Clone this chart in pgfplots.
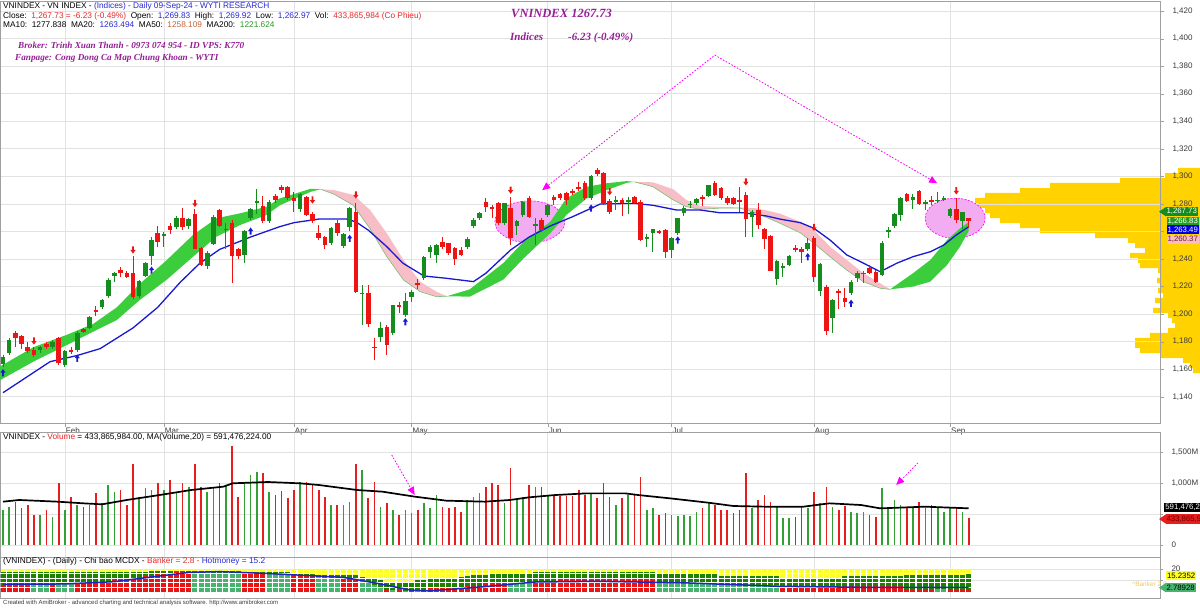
\documentclass[border=0pt]{standalone}
\usepackage{pgfplots}
\pgfplotsset{compat=1.18}
\usepackage{pgfplotstable}
\usepackage{fontspec}
\setmainfont{Liberation Sans}
\newfontfamily\seriff{Liberation Serif}
\usetikzlibrary{arrows.meta}

\definecolor{cgreen}{RGB}{20,140,30}
\definecolor{cred}{RGB}{238,20,20}
\definecolor{vgreen}{RGB}{50,160,50}
\definecolor{vred}{RGB}{230,30,30}
\definecolor{bandg}{RGB}{60,205,60}
\definecolor{bandp}{RGB}{247,190,200}
\definecolor{mablue}{RGB}{25,25,210}
\definecolor{prof}{RGB}{255,210,0}
\definecolor{gridc}{RGB}{226,226,226}
\definecolor{framec}{RGB}{160,160,160}
\definecolor{hblue}{RGB}{40,40,210}
\definecolor{hred}{RGB}{230,40,40}
\definecolor{mabrown}{RGB}{190,100,60}
\definecolor{magreen}{RGB}{40,150,40}
\definecolor{purp}{RGB}{150,30,150}
\definecolor{mag}{RGB}{255,0,255}
\definecolor{ellf}{RGB}{242,172,242}
\definecolor{myel}{RGB}{255,255,40}
\definecolor{mdg}{RGB}{30,130,0}
\definecolor{msea}{RGB}{70,180,110}
\definecolor{mred}{RGB}{235,20,20}
\definecolor{mblue}{RGB}{30,40,190}
\definecolor{tickc}{RGB}{60,60,60}

\newcommand\hdr{\fontsize{8.3}{10}\selectfont}
\newcommand\tagf{\fontsize{7.8}{9}\selectfont}

\pgfdeclareplotmark{dnarrow}{%
 \pgfpathmoveto{\pgfqpoint{-0.9pt}{3.6pt}}%
 \pgfpathlineto{\pgfqpoint{0.9pt}{3.6pt}}%
 \pgfpathlineto{\pgfqpoint{0.9pt}{0pt}}%
 \pgfpathlineto{\pgfqpoint{2.6pt}{0pt}}%
 \pgfpathlineto{\pgfqpoint{0pt}{-3.6pt}}%
 \pgfpathlineto{\pgfqpoint{-2.6pt}{0pt}}%
 \pgfpathlineto{\pgfqpoint{-0.9pt}{0pt}}%
 \pgfpathclose\pgfusepathqfill}
\pgfdeclareplotmark{uparrow}{%
 \pgfpathmoveto{\pgfqpoint{-0.9pt}{-3.6pt}}%
 \pgfpathlineto{\pgfqpoint{0.9pt}{-3.6pt}}%
 \pgfpathlineto{\pgfqpoint{0.9pt}{0pt}}%
 \pgfpathlineto{\pgfqpoint{2.6pt}{0pt}}%
 \pgfpathlineto{\pgfqpoint{0pt}{3.6pt}}%
 \pgfpathlineto{\pgfqpoint{-2.6pt}{0pt}}%
 \pgfpathlineto{\pgfqpoint{-0.9pt}{0pt}}%
 \pgfpathclose\pgfusepathqfill}

% green candles: i O H L C V(M)
\pgfplotstableread{
i O H L C V
0 1164 1170 1162 1169 565
1 1172 1183 1170 1181 618
6 1174 1177 1172 1176 484
8 1176 1181 1175 1180 457
10 1163 1174 1161.5 1173 565
12 1174 1188 1172.5 1186 645
14 1190 1199 1189 1198 645
16 1205 1211 1204 1210 672
17 1213 1226 1212 1225 968
18 1228 1230.5 1223.5 1229.7 860
22 1213 1225 1211.5 1224 780
23 1228 1238 1227 1237 914
24 1242 1256 1235.7 1254 887
26 1256.7 1260 1249 1258.2 887
28 1263 1271 1261.5 1269.6 860
30 1264 1270 1262 1269 941
33 1235 1246 1233 1244.6 860
34 1251 1272 1250 1270.3 914
36 1261 1266 1247 1262 968
39 1243 1261 1237 1260 995
40 1270 1277 1268 1276.3 1129
41 1281 1290.6 1273 1282 1172
43 1267.6 1283 1266 1281.6 860
48 1276 1288 1274 1287 1021
53 1252 1263 1250 1262.3 645
55 1249.4 1259 1248 1258 645
56 1263 1278 1260 1276.8 700
58 1214.4 1221 1192 1215.6 1210
61 1183.7 1194 1180 1190 618
63 1186.6 1207 1185 1206.6 565
65 1199.4 1215 1198 1209.5 565
66 1212.2 1217.5 1209 1216.3 510
68 1226.4 1242 1225 1241.3 672
69 1245.3 1250 1240.5 1249 591
70 1242.9 1251 1237 1250.2 806
75 1248.5 1256 1247.5 1254.3 726
76 1264 1269.5 1262.5 1268.3 780
77 1269.6 1274 1268.5 1273.2 833
81 1265.9 1281 1264.5 1280.4 672
83 1264 1268 1257.5 1267.6 726
84 1272 1282.5 1270.5 1281.6 780
86 1264.5 1269.5 1250.5 1265.5 941
88 1272 1280 1270.8 1279 806
95 1284 1301 1282.5 1300.3 833
99 1282 1285.5 1275.5 1283 645
101 1282 1285 1273 1283 806
104 1255 1258.5 1249 1256 565
105 1259 1262 1245 1261.6 591
108 1246.6 1256 1240.5 1255 484
109 1258.7 1270 1257.5 1269.6 468
110 1273.2 1278.5 1271 1276.8 484
111 1279 1282.5 1277 1280.2 468
112 1280.5 1284.5 1279.5 1283.4 538
114 1285.7 1294 1285 1293.7 700
121 1270.8 1275.5 1256 1274.4 591
125 1225.3 1239.5 1221 1238.8 618
126 1234 1237 1226.7 1235 430
127 1235.7 1243 1235 1242.2 430
130 1247 1255 1246 1251.4 591
132 1217 1237 1213 1236.4 672
134 1197.5 1211 1186 1210.3 618
137 1215 1225 1214 1223.6 538
138 1226 1231 1223 1230 510
139 1229.2 1231 1222.5 1230 538
142 1228.4 1253 1227.5 1251.9 914
143 1259.5 1263 1255 1261 591
144 1264 1273.5 1262.5 1272.5 726
145 1272 1285 1267.5 1284 645
147 1283 1287.5 1276.5 1285 591
149 1280 1283 1275.5 1281.5 591
151 1282 1289 1281 1283.2 618
152 1283 1285.5 1282 1284 538
153 1271.2 1277 1269.5 1276 618
155 1267.6 1274.5 1262 1273.9 538
}\gtab

% red candles
\pgfplotstableread{
i O H L C V
2 1186 1187.5 1176.5 1183 700
3 1184 1185 1174.5 1178 590
4 1176 1180 1172 1173 645
5 1174 1176 1169 1170.5 484
7 1178 1179.5 1174.5 1176 565
9 1182.5 1183.5 1163 1164.5 1005
11 1174 1176.5 1171 1172.3 780
13 1189 1190 1186.5 1187.3 618
15 1203 1206 1199 1201.8 833
19 1232 1234 1227 1230 887
20 1230 1231 1226 1227.2 645
21 1230 1242 1211 1212.3 1306
25 1259 1264 1249 1252.6 1005
27 1264 1266 1258 1261.3 1048
29 1270 1277 1261 1263 995
31 1272.5 1276 1247 1247.3 1306
32 1248 1249 1235 1235.7 941
35 1275.6 1276 1263 1264 1005
37 1266.5 1268 1222.6 1242 1597
38 1247 1248 1240 1242.2 780
42 1278.5 1285.7 1266 1267.6 1167
44 1285.7 1287 1281 1282.8 806
45 1292.5 1294 1288 1290 876
46 1292.5 1293 1283 1284 753
47 1284 1289 1274.4 1282.3 887
49 1285.3 1286 1271 1272 1021
50 1272.5 1274 1266 1267.9 968
51 1258.7 1264.7 1254 1255 887
52 1255.8 1257 1247 1250.2 780
54 1266.4 1268 1257 1258.7 645
57 1274.4 1280.4 1215 1216.3 1306
59 1215.6 1221 1191 1192.8 753
60 1176.4 1182.5 1166.7 1175.2 1021
62 1191 1192 1170.4 1177.6 672
64 1206.6 1209 1201 1205.4 484
67 1222.9 1225.5 1218.5 1221.2 565
71 1252.6 1256 1247 1248.5 618
72 1251.4 1252 1243 1244.6 591
73 1247.8 1248.5 1236 1239.8 618
74 1246.6 1249 1242 1243 538
78 1281.6 1284 1274.5 1277.5 941
79 1278 1279.5 1269.7 1276.8 995
80 1280.4 1281.5 1265 1266.4 968
82 1276.8 1285 1250 1255 1236
85 1284.5 1285.5 1269.5 1270.8 968
87 1268.3 1270 1259.5 1261 941
89 1285.3 1286.5 1279 1282.8 806
90 1287 1288 1283 1284.5 790
91 1288.2 1289 1279 1282.8 790
92 1289.4 1291 1286.5 1287.7 790
93 1292.5 1296 1289.5 1290.6 887
94 1295 1296.5 1283 1284 806
96 1304.6 1306 1300 1301.7 753
97 1302.7 1303.5 1279.5 1280 1005
98 1282.3 1283.5 1273 1274.4 769
100 1283 1284 1271 1280.5 753
102 1285.3 1286 1280 1281 806
103 1281.6 1283 1253 1253.8 1091
106 1260 1261 1258 1259.2 484
107 1261 1262 1240.5 1245.3 521
113 1285.3 1286.5 1278.5 1283.4 591
115 1295.4 1296.5 1286 1286.5 645
116 1291.3 1292 1283 1284 565
117 1284.5 1285.5 1279.5 1280.4 565
118 1284 1285 1279 1279.7 510
119 1283 1292 1274.5 1281.5 565
120 1286.5 1289 1256 1268.9 1156
122 1275.6 1280.4 1262 1264.7 726
123 1261.6 1262.5 1247 1254.3 806
124 1256.7 1257.5 1231 1231.5 700
128 1248 1250 1245 1247 457
129 1247 1249 1237 1245.3 618
131 1255 1257 1223.6 1226.7 860
133 1220 1221 1185 1187.8 941
135 1216.8 1218 1204 1215.9 565
136 1212 1219 1205 1208.6 629
140 1233.7 1236 1229.5 1230 484
141 1230.8 1232 1222.5 1223.6 457
146 1287 1288 1281.5 1282.3 618
148 1289.4 1290 1279 1279.7 700
150 1283 1285.5 1279.5 1281.6 645
154 1276 1284 1266.5 1268.3 591
156 1269.83 1269.92 1262.97 1267.73 433.87
}\rtab

% volume profile (price, length in px from right edge)
\pgfplotstableread{
p L
1304.25 22
1300.6 35
1297.0 80
1293.4 150
1289.7 180
1286.1 215
1282.5 225
1278.9 222
1275.2 215
1271.6 210
1268.0 200
1264.3 180
1260.7 160
1257.1 105
1253.5 72
1249.8 65
1246.2 55
1242.6 70
1238.9 62
1235.3 60
1231.7 42
1228.1 40
1224.4 43
1220.8 40
1217.2 42
1213.5 37
1209.9 45
1206.3 40
1202.7 47
1199.0 32
1195.4 28
1191.8 25
1188.1 32
1184.5 50
1180.9 65
1177.3 65
1173.6 60
1170.0 40
1166.4 17
1162.7 10
1159.1 7
}\proftab

% MCDX: banker b, hotmoney h, r=1 red / 0 seagreen
\pgfplotstableread{
i b h r
0 6.5 17 1
1 6.5 17 1
2 6.6 17 1
3 6.6 17 1
4 6.7 17 1
5 6.7 17 0
6 6.6 17 0
7 6.6 17 0
8 7 17 1
9 7 17 0
10 7 17 0
11 7 17 0
12 7.5 17 1
13 8 17 1
14 8.3 17 1
15 8.7 17 1
16 9 17 1
17 9.5 17 1
18 10 17 1
19 11 17.5 1
20 11.8 17.5 1
21 12.5 17.5 1
22 13.2 17.5 1
23 14 17.5 1
24 15 18 1
25 15.5 18 1
26 16 18 1
27 16.5 18 1
28 17 18 1
29 17.3 18 1
30 17.5 18 1
31 17.5 18 0
32 17.2 18 0
33 17 18 0
34 16.8 18 0
35 16.5 18 0
36 16.2 18 0
37 15.8 18 0
38 15.5 18 0
39 16 17.5 1
40 16 17.5 1
41 16.2 17.5 1
42 16 17.5 1
43 15.5 17 0
44 15.3 17 0
45 15.2 17 0
46 15 17 0
47 15 16.5 1
48 15 16.5 1
49 14.5 16.5 1
50 14 16.5 1
51 12.7 15 0
52 12.5 15 0
53 12.5 15 0
54 12.7 15 0
55 12.7 15 1
56 12.7 15 1
57 12.7 15 1
58 10 13 0
59 8 12 0
60 6 11 0
61 4 10 0
62 2 9 1
63 1.5 9 0
64 1.5 9 1
65 1.2 9 0
66 1.2 9 1
67 1.5 10 0
68 2 10 1
69 3.5 11 1
70 4 11.5 1
71 4 12 1
72 4.3 12 1
73 4.3 12.5 1
74 4.5 13 1
75 5.5 14 1
76 6 14.5 1
77 6.5 15 1
78 7 15 1
79 7.3 15.5 1
80 7.5 15.5 1
81 7.7 16 1
82 8 16 0
83 8 16 0
84 8 16 0
85 8.2 16 0
86 9 17 1
87 9 17 1
88 9.5 17 1
89 9.5 17 1
90 10 17 1
91 10 17 1
92 10 17 1
93 10.5 17 1
94 10.5 17 1
95 10.5 17 1
96 10.5 17 1
97 10 17 1
98 10 17 1
99 10 17 1
100 10 17 1
101 10 17 1
102 10 17 1
103 10 17 1
104 10 17 1
105 10 17 1
106 8 16 0
107 8 16 0
108 8 16 0
109 8 16 0
110 8 16 0
111 8 16 0
112 8 16 0
113 8 16 0
114 8 16 0
115 8 16 0
116 6 14 0
117 6 14 0
118 6 14 0
119 6 14 0
120 6 14 0
121 6 14 0
122 6 14 0
123 6 14 0
124 6 14 0
125 6 14 0
126 4 12 1
127 4 12 1
128 4 12 1
129 4 12 1
130 4 12 1
131 4 12 1
132 4 12 1
133 4 12 1
134 4 12 1
135 4 12 1
136 5 14 1
137 5 14 1
138 5 14 1
139 5 14 1
140 5 14 1
141 5 14 1
142 5 14 1
143 5 14 1
144 5 14 1
145 5 14 1
146 3 15 1
147 3 15 1
148 3 15 1
149 3 15 1
150 3 15 1
151 3 15 0
152 3 15 0
153 3 15 1
154 3 15 1
155 3 15.2 1
156 2.79 15.24 1
}\mtab

\pgfplotsset{panel/.style={scale only axis, width=1160pt,
  xmin=-0.485, xmax=186.9,
  axis line style={framec},
  xtick={10,26,47,66,88,108,131,153},
  grid=major, major grid style={gridc, line width=0.8pt},
  ytick pos=right, yticklabel pos=right,
  tick align=outside, major tick length=3pt, tick style={framec},
  ticklabel style={font=\fontsize{8}{9}\selectfont, text=tickc},
  yticklabel style={xshift=5pt},
  /pgf/number format/assume math mode=true,
  /pgf/number format/1000 sep={,}}}

\begin{document}
\begin{tikzpicture}[x=1pt,y=1pt]
\path[use as bounding box] (0,0) rectangle (1200,608);
\fill[white] (0,0) rectangle (1200,608);

% volume-at-price profile
\begin{axis}[at={(0pt,607pt)}, anchor=north west, scale only axis,
  width=1200pt, height=422pt, xmin=0, xmax=1200, x dir=reverse,
  ymin=1121, ymax=1427.3, axis lines=none]
\addplot[xbar, bar width=3.7, bar shift=0pt, fill=prof, draw=none] table[x=L, y=p] {\proftab};
\end{axis}

% ---------------- price panel
\begin{axis}[panel, at={(0pt,607pt)}, anchor=north west, height=422pt,
  ymin=1121, ymax=1427.3, ytick={1140,1160,...,1420},
  yticklabels={{1,140},{1,160},{1,180},{1,200},{1,220},{1,240},{},{1,280},{1,300},{1,320},{1,340},{1,360},{1,380},{1,400},{1,420}},
  xticklabels={Feb,Mar,Apr,May,Jun,Jul,Aug,Sep},
  xtick pos=left, major tick length=4pt,
  xticklabel style={anchor=north west, xshift=-2.5pt, yshift=3pt}]
% highlight ellipses
\draw[mag, dash pattern=on 2pt off 1.5pt, fill=ellf, line width=0.6pt] (axis cs:85.1,1267) ellipse [x radius=35pt, y radius=21pt];
\draw[mag, dash pattern=on 2pt off 1.5pt, fill=ellf, line width=0.6pt] (axis cs:153.8,1269.6) ellipse [x radius=30pt, y radius=20pt];
% band
\addplot[fill=bandg, draw=none] coordinates {(-0.5,1162) (4.9,1176) (10.3,1185) (14.6,1193) (18.4,1205) (22.1,1222) (26.4,1239) (30.7,1257.5) (34.5,1269.6) (38.3,1273.2) (42.6,1278) (44.7,1284) (49.7,1291) (51.3,1290.7) (49.7,1288.8) (44.7,1279) (42.6,1272) (38.3,1264.7) (34.5,1256.3) (30.7,1241.7) (26.4,1224.8) (22.1,1210.3) (18.4,1195.8) (14.6,1187.3) (10.3,1177.6) (4.9,1165.5) (-0.5,1152)} -- cycle;
\addplot[fill=bandp, draw=none] coordinates {(51.3,1290.7) (53.5,1290) (56.6,1286.5) (59.3,1275.6) (62,1258.7) (64.7,1239.3) (67.4,1223.6) (70,1216.3) (71.7,1213) (70,1212.7) (67.4,1216.3) (64.7,1224.8) (62,1241.7) (59.3,1262) (56.6,1279) (53.5,1287)} -- cycle;
\addplot[fill=bandg, draw=none] coordinates {(71.7,1213) (75.4,1218) (80.8,1237) (84.1,1252.6) (88.4,1267) (91,1284) (94.3,1292.5) (97.5,1295) (100.8,1296.6) (102,1296) (100.8,1295.4) (97.5,1290) (94.3,1284) (91,1272) (88.4,1258.7) (84.1,1240.5) (80.8,1225) (75.4,1212.7)} -- cycle;
\addplot[fill=bandp, draw=none] coordinates {(102,1296) (105,1295.7) (108.3,1290.6) (110.4,1282.8) (112.6,1278.5) (116,1277.8) (119,1277.5) (121.8,1276.8) (125.5,1273) (128.8,1267) (131,1261) (133.6,1249) (136.3,1239.3) (139,1229.7) (141.7,1222.4) (143.3,1218) (141.7,1218.8) (139,1223.6) (136.3,1232) (133.6,1241.7) (131,1251.4) (128.8,1259) (125.5,1266) (121.8,1273.2) (119,1277) (116,1277) (112.6,1276.1) (110.4,1278) (108.3,1282.8) (105,1292.5)} -- cycle;
\addplot[fill=bandg, draw=none] coordinates {(143.3,1218) (147,1229.7) (149.8,1239.3) (152.5,1253.8) (154.6,1262.3) (156,1266.83) (156,1260.37) (154.6,1249) (152.5,1235.7) (149.8,1223.6) (147,1220)} -- cycle;
\addplot[draw={rgb,255:red,120;green,190;blue,120}, line width=0.6pt] coordinates {(51.3,1290.7) (53.5,1287) (56.6,1279) (59.3,1262) (62,1241.7) (64.7,1224.8) (67.4,1216.3) (70,1212.7) (71.7,1213)};
\addplot[draw={rgb,255:red,120;green,190;blue,120}, line width=0.6pt] coordinates {(102,1296) (105,1292.5) (108.3,1282.8) (110.4,1278) (112.6,1276.1) (116,1277) (119,1277) (121.8,1273.2) (125.5,1266) (128.8,1259) (131,1251.4) (133.6,1241.7) (136.3,1232) (139,1223.6) (141.7,1218.8) (143.3,1218)};
% MA20 blue
\addplot[mablue, line width=1.3pt] coordinates {(0,1143) (7.6,1165.5) (12,1170) (15.7,1175) (21,1190) (25,1205) (28.6,1223) (31.8,1237) (35,1247) (40,1256) (44.7,1263.5) (47,1266.4) (51,1269) (55.5,1269) (57,1267) (59,1261) (62,1249) (64.6,1237) (68,1227.7) (71.7,1226) (76,1223.6) (78,1229.7) (82,1246.6) (85,1256) (88.4,1264) (92,1270.7) (95,1276.8) (96.5,1280) (102,1280.4) (105,1279) (108.8,1275.6) (112.6,1275.6) (115.8,1273.6) (119.6,1273.6) (123.4,1271.2) (125.5,1269) (128.8,1266.4) (131,1262.3) (133.6,1253.8) (136.3,1243) (139,1237) (141.7,1230.8) (144.4,1237) (147,1241.7) (149.8,1245.3) (152,1250.2) (154,1257.5) (156,1263.49)};
% candles: wicks then bodies
\addplot[draw=none, mark=none, error bars/.cd, y dir=both, y explicit, error mark=none, error bar style={draw=cgreen, line width=1pt}]
  table[x=i, y expr={(\thisrow{H}+\thisrow{L})/2}, y error expr={(\thisrow{H}-\thisrow{L})/2}] {\gtab};
\addplot[draw=none, mark=none, error bars/.cd, y dir=both, y explicit, error mark=none, error bar style={draw=cred, line width=1pt}]
  table[x=i, y expr={(\thisrow{H}+\thisrow{L})/2}, y error expr={(\thisrow{H}-\thisrow{L})/2}] {\rtab};
\addplot[draw=none, mark=none, error bars/.cd, y dir=both, y explicit, error mark=none, error bar style={draw=cgreen, line width=4.6pt}]
  table[x=i, y expr={(\thisrow{O}+\thisrow{C})/2}, y error expr={abs(\thisrow{C}-\thisrow{O})/2}] {\gtab};
\addplot[draw=none, mark=none, error bars/.cd, y dir=both, y explicit, error mark=none, error bar style={draw=cred, line width=4.6pt}]
  table[x=i, y expr={(\thisrow{O}+\thisrow{C})/2}, y error expr={abs(\thisrow{C}-\thisrow{O})/2}] {\rtab};
% signal arrows
\addplot[only marks, mark=dnarrow, cred] coordinates {(5,1180.5) (21,1246.6) (31,1280.4) (50,1282.8) (57,1286.5) (82,1290) (98,1288.9) (120,1296) (131,1263) (154,1289.5)};
\addplot[only marks, mark=uparrow, mablue] coordinates {(0,1157.5) (12,1168) (24,1232) (40,1260.3) (56,1255) (65,1194.5) (95,1277) (109,1253.8) (130,1241.7) (137,1207.9)};
% dotted annotation
\draw[mag, line width=0.8pt, dash pattern=on 1.6pt off 1.6pt, {Triangle[length=8pt,width=7pt]}-{Triangle[length=8pt,width=7pt]}] (axis cs:87.1,1290) -- (axis cs:115,1388) -- (axis cs:150.9,1295);
\end{axis}

% ---------------- volume panel
\begin{axis}[panel, at={(0pt,176pt)}, anchor=north west, height=125pt,
  ymin=-193.5, ymax=1822.6, ytick={0,500,1000,1500},
  yticklabels={0,{},{1,000M},{1,500M}},
  xticklabels={}, xtick style={draw=none}]
\addplot[ycomb, vgreen, line width=1.6pt] table[x=i, y=V] {\gtab};
\addplot[ycomb, vred, line width=1.6pt] table[x=i, y=V] {\rtab};
\addplot[black, line width=1.7pt] coordinates {(0,699) (2.6,726) (8.8,699) (13,672) (16,656) (20,726) (25.3,806) (30.4,887) (35.6,941) (37.1,995) (42.8,1016) (47.9,995) (51,968) (57.2,887) (61.3,860) (66.5,780) (71.6,715) (77.8,699) (81.9,726) (85,769) (89.2,806) (94.3,833) (100.5,833) (102.6,806) (107.7,753) (113.9,683) (118,629) (123.2,618) (129.3,618) (133.5,672) (138.6,645) (141.7,591) (148.9,618) (156,591.5)};
\draw[mag, line width=0.8pt, dash pattern=on 1.6pt off 1.6pt, -{Triangle[length=8pt,width=7pt]}] (axis cs:62.8,1452) -- (axis cs:66.5,806);
\draw[mag, line width=0.8pt, dash pattern=on 1.6pt off 1.6pt, -{Triangle[length=8pt,width=7pt]}] (axis cs:147.8,1323) -- (axis cs:144.3,968);
\end{axis}

% ---------------- MCDX panel
\begin{axis}[panel, at={(0pt,51pt)}, anchor=north west, height=41pt,
  ymin=-5.2, ymax=30.4, ytick={10,20}, yticklabels={{},20},
  xticklabels={}, xtick style={draw=none}]
\addplot[ycomb, myel, line width=5pt] table[x=i, y expr=20] {\mtab};
\addplot[ycomb, mdg, line width=5pt] table[x=i, y=h] {\mtab};
\addplot[ycomb, mred, line width=5pt] table[x=i, y expr={\thisrow{r}>0.5 ? \thisrow{b} : 0}] {\mtab};
\addplot[ycomb, msea, line width=5pt] table[x=i, y expr={\thisrow{r}<0.5 ? \thisrow{b} : 0}] {\mtab};
\addplot[white, line width=0.7pt] coordinates {(-0.5,4) (156.5,4)};
\addplot[white, line width=0.7pt] coordinates {(-0.5,8) (156.5,8)};
\addplot[white, line width=0.7pt] coordinates {(-0.5,12) (156.5,12)};
\addplot[white, line width=0.7pt] coordinates {(-0.5,16) (156.5,16)};
\addplot[mblue, line width=1.5pt] coordinates {(0,6.7) (10,7) (18,9) (24,13) (30,17) (35,17.7) (43,16) (55,12.7) (60,8) (66,1.5) (69,1) (77,4.3) (86,8.7) (96,9.3) (110,8) (125,5) (140,4) (156,4)};
\end{axis}

% ---------------- texts
\node[anchor=base west, inner sep=0, font=\hdr] at (3,599) {VNINDEX - VN INDEX - \textcolor{hblue}{(Indices) - Daily 09-Sep-24 - WYTI RESEARCH}};
\node[anchor=base west, inner sep=0, font=\hdr] at (3,589.5) {Close:\ \ \textcolor{hred}{1,267.73 = -6.23 (-0.49\%)}\ \ Open:\ \ \textcolor{hblue}{1,269.83}\ \ High:\ \ \textcolor{hblue}{1,269.92}\ \ Low:\ \ \textcolor{hblue}{1,262.97}\ \ Vol:\ \ \textcolor{hred}{433,865,984 (Co Phieu)}};
\node[anchor=base west, inner sep=0, font=\hdr] at (3,580) {MA10:\ \ 1277.838\ \ MA20:\ \ \textcolor{hblue}{1263.494}\ \ MA50:\ \ \textcolor{mabrown}{1258.109}\ \ MA200:\ \ \textcolor{magreen}{1221.624}};
\node[anchor=base west, inner sep=0, text=purp, font=\seriff\bfseries\itshape\fontsize{9.2}{11}\selectfont] at (18,559) {Broker: Trinh Xuan Thanh - 0973 074 954 - ID VPS: K770};
\node[anchor=base west, inner sep=0, text=purp, font=\seriff\bfseries\itshape\fontsize{9.2}{11}\selectfont] at (15,547) {Fanpage: Cong Dong Ca Map Chung Khoan - WYTI};
\node[anchor=base west, inner sep=0, text=purp, font=\seriff\bfseries\itshape\fontsize{12.5}{14}\selectfont] at (511,590) {VNINDEX 1267.73};
\node[anchor=base west, inner sep=0, text=purp, font=\seriff\bfseries\itshape\fontsize{11}{13}\selectfont] at (510,567) {Indices};
\node[anchor=base west, inner sep=0, text=purp, font=\seriff\bfseries\itshape\fontsize{11}{13}\selectfont] at (568,567) {-6.23 (-0.49\%)};
\node[anchor=base west, inner sep=0, font=\hdr] at (3,168) {VNINDEX - \textcolor{hred}{Volume} = 433,865,984.00, MA(Volume,20) = 591,476,224.00};
\node[anchor=base west, inner sep=0, font=\hdr] at (3,44) {(VNINDEX) - (Daily) - Chi bao MCDX - \textcolor{hred}{Banker = 2.8 - }\textcolor{hblue}{Hotmoney = 15.2}};
\node[anchor=base west, inner sep=0, font=\fontsize{6}{7}\selectfont, text=tickc] at (3,3) {Created with AmiBroker - advanced charting and technical analysis software. http://www.amibroker.com};
\node[anchor=base west, inner sep=0, font=\fontsize{6.5}{7}\selectfont, text={rgb,255:red,240;green,200;blue,90}] at (1132,21) {\textasciicircum Banker 2.8};

% value tags
\fill[cgreen] (1159,396.3) -- (1166,401) -- (1166,391.6) -- cycle;
\node[anchor=west, fill=cgreen, text=white, font=\tagf, inner sep=0.8pt, minimum height=9.4pt] at (1165.5,396.3) {1,267.73};
\node[anchor=west, fill={rgb,255:red,30;green,160;blue,30}, text=white, font=\tagf, inner sep=0.8pt, minimum height=9pt] at (1166.5,386.3) {1,266.83};
\node[anchor=west, fill={rgb,255:red,0;green,0;blue,225}, text=white, font=\tagf, inner sep=0.8pt, minimum height=9pt] at (1166.5,378) {1,263.49};
\node[anchor=west, fill=bandp, text={rgb,255:red,120;green,20;blue,40}, font=\tagf, inner sep=0.8pt, minimum height=9pt] at (1166.5,368.7) {1,260.37};
\node[anchor=west, fill=black, text=white, font=\tagf, inner sep=0.8pt, minimum height=9pt, minimum width=37pt] at (1164,100.3) {591,476,2};
\fill[vred] (1159,89) -- (1166,93.7) -- (1166,84.3) -- cycle;
\node[anchor=west, fill=vred, text={rgb,255:red,110;green,0;blue,0}, font=\tagf, inner sep=0.8pt, minimum height=9.4pt, minimum width=36pt] at (1165.5,89) {433,865,9};
\node[anchor=west, fill=myel, text=black, font=\tagf, inner sep=0.8pt, minimum height=9pt] at (1166,32.3) {15.2352};
\fill[msea] (1159,20.3) -- (1166,25) -- (1166,15.6) -- cycle;
\node[anchor=west, fill=msea, text=black, font=\tagf, inner sep=0.8pt, minimum height=9.4pt] at (1165.5,20.3) {2.78928};
\end{tikzpicture}
\end{document}
